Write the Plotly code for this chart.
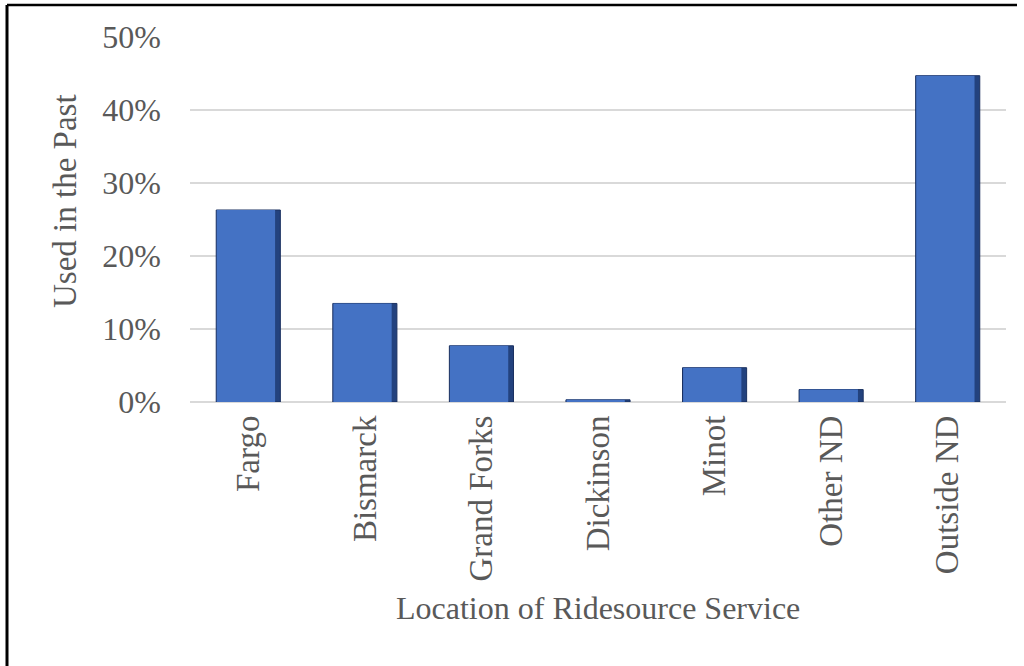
import plotly.graph_objects as go

categories = ["Fargo", "Bismarck", "Grand Forks", "Dickinson", "Minot", "Other ND", "Outside ND"]
used_in_past = [0.263, 0.135, 0.077, 0.003, 0.047, 0.017, 0.447]
y_ticks = [0, 0.1, 0.2, 0.3, 0.4, 0.5]
y_tick_text = ["0%", "10%", "20%", "30%", "40%", "50%"]

FONT = "Liberation Serif, Times New Roman, serif"
TXT = "#595959"

fig = go.Figure()
fig.add_trace(go.Bar(x=categories, y=used_in_past, width=0.55,
                     marker=dict(color="#23427e", line=dict(color="#1a3060", width=1)),
                     hoverinfo="skip", showlegend=False))
fig.add_trace(go.Bar(x=categories, y=used_in_past, width=0.50, offset=-0.27,
                     marker=dict(color="#4472C4", line=dict(width=0)),
                     showlegend=False))

fig.update_layout(
    width=1024, height=666,
    margin=dict(l=190, r=18, t=37, b=264),
    paper_bgcolor="white", plot_bgcolor="white",
    barmode="overlay",
    font=dict(family=FONT, size=32, color=TXT),
    xaxis=dict(showgrid=False, showline=False, ticks="", tickangle=-90,
               tickfont=dict(family=FONT, size=33, color=TXT), ticklabelstandoff=6),
    yaxis=dict(range=[0, 0.5], tickvals=y_ticks, ticktext=y_tick_text,
               showgrid=True, gridcolor="#d9d9d9", gridwidth=1.5,
               zeroline=True, zerolinecolor="#d9d9d9", zerolinewidth=1.5,
               showline=False, ticks="", ticklabelstandoff=28,
               tickfont=dict(family=FONT, size=32, color=TXT)),
    annotations=[
        dict(text="Used in the Past", textangle=-90, x=(65 - 190) / 816, y=(402 - 201) / 365,
             xref="paper", yref="paper", showarrow=False, xanchor="center", yanchor="middle",
             font=dict(family=FONT, size=33, color=TXT)),
        dict(text="Location of Ridesource Service", x=(598 - 190) / 816, y=(402 - 608) / 365,
             xref="paper", yref="paper", showarrow=False, xanchor="center", yanchor="middle",
             font=dict(family=FONT, size=32, color=TXT)),
    ],
    shapes=[
        dict(type="line", xref="paper", yref="paper", x0=(7 - 190) / 816, x1=(1017 - 190) / 816,
             y0=(402 - 5) / 365, y1=(402 - 5) / 365, line=dict(color="black", width=2.5)),
        dict(type="line", xref="paper", yref="paper", x0=(7 - 190) / 816, x1=(7 - 190) / 816,
             y0=(402 - 5) / 365, y1=(402 - 680) / 365, line=dict(color="black", width=3)),
    ],
)

fig.write_html("out.html")
